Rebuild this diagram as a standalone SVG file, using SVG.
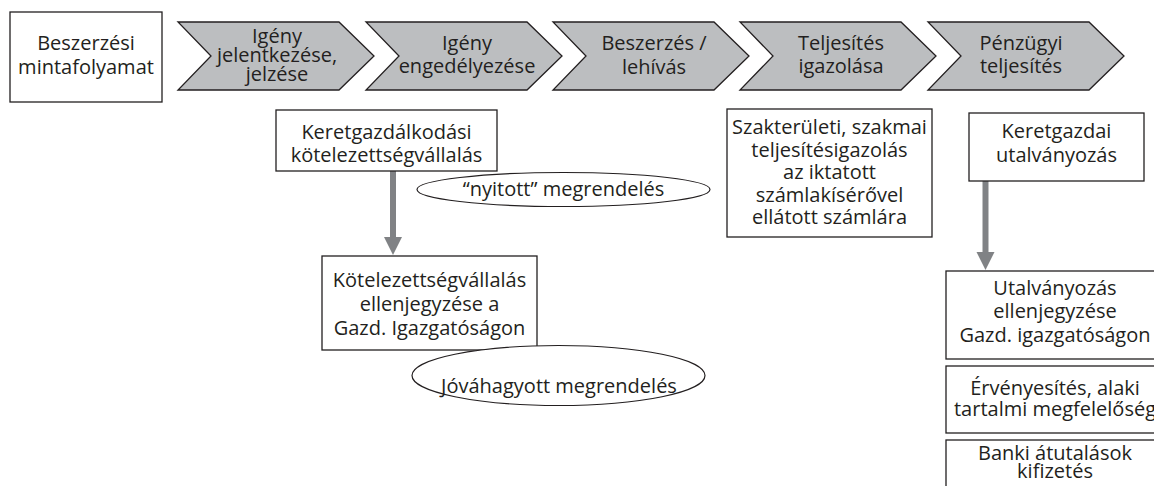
<svg xmlns="http://www.w3.org/2000/svg" width="1154" height="486" viewBox="0 0 1154 486">
  <style>
    .box { fill: #ffffff; stroke: #231f20; stroke-width: 1.3; }
    .step { fill: #bcbec0; stroke: #231f20; stroke-width: 1.3; stroke-linejoin: miter; }
    .oval { fill: #ffffff; stroke: #231f20; stroke-width: 1.2; }
    text { font-family: "Open Sans", "Noto Sans", "Liberation Sans", sans-serif; font-size: 20px; fill: #231f20; text-anchor: middle; }
    .flow { stroke: #808285; stroke-width: 6; fill: none; }
    .head { fill: #808285; }
  </style>
  <defs>
    <!-- one process step: chevron with notch on the left, point on the right -->
    <polygon id="chevron" points="0,22 161,22 196,56 161,90 0,90 33,56"/>
  </defs>

  <rect width="1154" height="486" fill="#ffffff"/>

  <!-- title -->
  <g id="title">
    <rect class="box" x="10" y="12" width="152" height="90"/>
    <text x="86" y="50">Beszerzési</text>
    <text x="86" y="74">mintafolyamat</text>
  </g>

  <!-- process steps -->
  <g id="step-igeny-jelentkezese">
    <use href="#chevron" class="step" x="178"/>
    <text x="277" y="42.5">Igény</text>
    <text x="277" y="62">jelentkezése,</text>
    <text x="277" y="81">jelzése</text>
  </g>
  <g id="step-igeny-engedelyezese">
    <use href="#chevron" class="step" x="366"/>
    <text x="467" y="50">Igény</text>
    <text x="467" y="73">engedélyezése</text>
  </g>
  <g id="step-beszerzes">
    <use href="#chevron" class="step" x="553"/>
    <text x="654" y="50">Beszerzés /</text>
    <text x="654" y="73.5">lehívás</text>
  </g>
  <g id="step-teljesites-igazolasa">
    <use href="#chevron" class="step" x="740"/>
    <text x="841" y="50">Teljesítés</text>
    <text x="841" y="73">igazolása</text>
  </g>
  <g id="step-penzugyi-teljesites">
    <use href="#chevron" class="step" x="928"/>
    <text x="1021" y="50">Pénzügyi</text>
    <text x="1021" y="73">teljesítés</text>
  </g>

  <!-- connectors -->
  <g id="connectors">
    <line class="flow" x1="393" y1="171" x2="393" y2="239"/>
    <polygon class="head" points="384,237 402,237 393,255"/>
    <line class="flow" x1="985.5" y1="181" x2="985.5" y2="254"/>
    <polygon class="head" points="976.5,252 994.5,252 985.5,270"/>
  </g>

  <!-- commitment branch -->
  <g id="keretgazdalkodasi">
    <rect class="box" x="276" y="110" width="221" height="61"/>
    <text x="386.5" y="139">Keretgazdálkodási</text>
    <text x="386.5" y="162">kötelezettségvállalás</text>
  </g>
  <g id="nyitott-megrendeles">
    <ellipse class="oval" cx="563.5" cy="189.5" rx="146.5" ry="17"/>
    <text x="563.5" y="196">“nyitott” megrendelés</text>
  </g>
  <g id="ellenjegyzes">
    <rect class="box" x="322" y="256" width="215" height="94"/>
    <text x="429.5" y="287">Kötelezettségvállalás</text>
    <text x="429.5" y="311">ellenjegyzése a</text>
    <text x="429.5" y="335">Gazd. Igazgatóságon</text>
  </g>
  <g id="jovahagyott-megrendeles">
    <ellipse class="oval" cx="558.5" cy="375.5" rx="146.5" ry="30"/>
    <text x="559" y="393">Jóváhagyott megrendelés</text>
  </g>

  <!-- performance certification -->
  <g id="szakteruleti">
    <rect class="box" x="727" y="109" width="205" height="128"/>
    <text x="829.5" y="133.5">Szakterületi, szakmai</text>
    <text x="829.5" y="156.5">teljesítésigazolás</text>
    <text x="829.5" y="179">az iktatott</text>
    <text x="829.5" y="201.5">számlakísérővel</text>
    <text x="829.5" y="224">ellátott számlára</text>
  </g>

  <!-- financial completion -->
  <g id="keretgazdai-utalvanyozas">
    <rect class="box" x="969" y="113" width="175" height="68"/>
    <text x="1056.5" y="138">Keretgazdai</text>
    <text x="1056.5" y="162">utalványozás</text>
  </g>
  <g id="utalvanyozas-ellenjegyzese">
    <rect class="box" x="946" y="271" width="220" height="88"/>
    <text x="1055" y="295">Utalványozás</text>
    <text x="1055" y="318">ellenjegyzése</text>
    <text x="1055" y="342">Gazd. igazgatóságon</text>
  </g>
  <g id="ervenyesites">
    <rect class="box" x="946" y="366" width="220" height="67"/>
    <text x="1055" y="395">Érvényesítés, alaki</text>
    <text x="1055" y="416">tartalmi megfelelőség</text>
  </g>
  <g id="banki-atutalasok">
    <rect class="box" x="946" y="440" width="220" height="60"/>
    <text x="1055" y="460">Banki átutalások</text>
    <text x="1055" y="478">kifizetés</text>
  </g>
</svg>
